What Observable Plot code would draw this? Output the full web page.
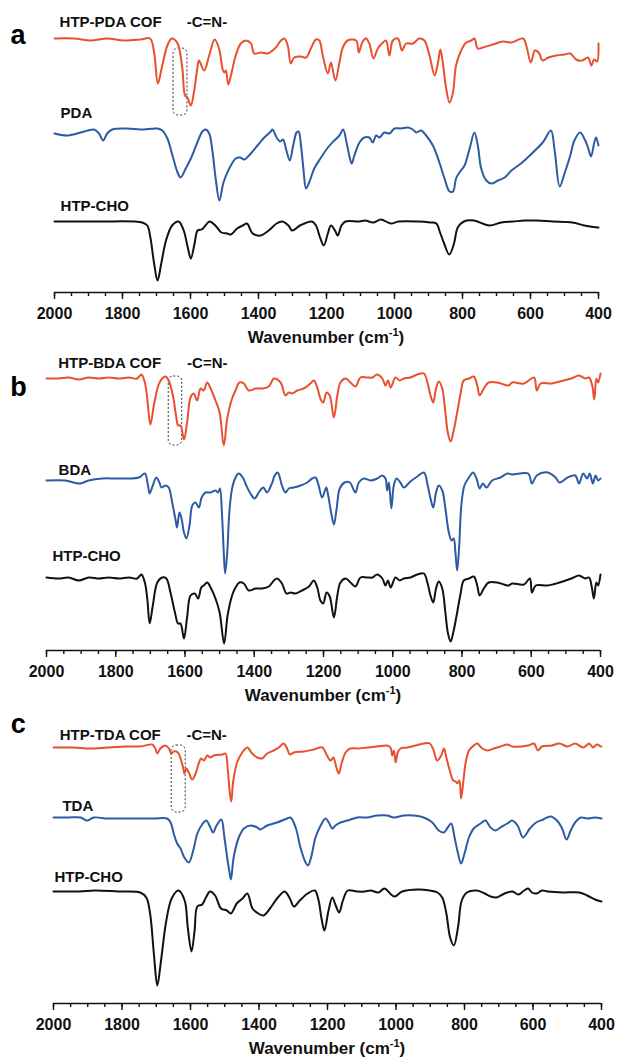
<!DOCTYPE html>
<html><head><meta charset="utf-8">
<script src="https://cdn.jsdelivr.net/npm/d3@7"></script>
<script src="https://cdn.jsdelivr.net/npm/@observablehq/plot@0.6"></script>
<style>
body{margin:0;background:#fff;}
#wrap{position:relative;width:617px;height:1059px;overflow:hidden;font-family:"Liberation Sans",Arial,sans-serif;color:#111;}
.panel{position:absolute;left:0;}
.xtitle{position:absolute;font-weight:bold;font-size:17px;line-height:20px;white-space:nowrap;transform:translateX(-50%);}
.xtitle sup{font-size:11px;line-height:0;vertical-align:7px;}
</style></head>
<body><div id="wrap"></div>
<script>
// ---- axis ticks (wavenumber, cm-1) ----
const majorTicks = [2000,1800,1600,1400,1200,1000,800,600,400];
const minorTicks = [2000,1950,1900,1850,1800,1750,1700,1650,1600,1550,1500,1450,1400,1350,1300,1250,1200,1150,1100,1050,1000,950,900,850,800,750,700,650,600,550,500,450,400];
const axisTitle = "Wavenumber (cm";
const axisTitleSup = "-1";

// ---- panel a: [wavenumber, offset transmittance (a.u.)] ----
const aCOF = [[2000,254],[1943,254],[1894,252],[1845,254],[1796,252],[1747,253],[1719,254],[1707,240],[1696,209],[1683,227],[1668,247],[1655,254],[1638,249],[1624,224],[1616,197],[1609,195],[1599,187],[1590,200],[1580,224],[1575,232],[1560,222],[1545,237],[1529,253],[1516,244],[1506,224],[1501,220],[1496,222],[1489,208],[1481,217],[1467,237],[1452,249],[1437,252],[1422,249],[1413,239],[1393,240],[1373,239],[1359,242],[1349,245],[1334,252],[1324,254],[1314,247],[1305,229],[1295,235],[1275,236],[1260,235],[1246,244],[1231,253],[1221,252],[1211,237],[1196,219],[1187,230],[1174,212],[1162,230],[1152,245],[1138,252],[1113,252],[1105,240],[1095,250],[1084,254],[1074,249],[1062,234],[1049,244],[1034,250],[1025,252],[1015,237],[1005,252],[990,254],[978,242],[966,249],[946,249],[927,254],[912,252],[897,237],[882,217],[872,230],[865,243],[858,230],[848,204],[838,190],[828,200],[819,227],[804,242],[789,250],[774,252],[765,254],[755,244],[740,245],[710,248],[681,251],[656,250],[622,254],[611,245],[599,230],[587,242],[576,240],[564,232],[547,235],[524,237],[500,238],[483,239],[466,233],[448,232],[431,235],[421,227],[413,233],[404,231],[400,249]];
const aPDA = [[2000,159],[1963,157],[1923,160],[1884,163],[1869,159],[1857,152],[1845,159],[1830,163],[1786,164],[1747,163],[1697,164],[1683,162],[1668,154],[1653,137],[1638,120],[1629,115],[1614,124],[1599,134],[1580,150],[1565,161],[1555,163],[1545,159],[1535,140],[1526,114],[1515,92],[1503,110],[1486,124],[1467,134],[1454,135],[1442,133],[1428,137],[1403,147],[1383,155],[1364,161],[1359,163],[1345,154],[1336,151],[1328,153],[1318,142],[1308,132],[1298,147],[1288,160],[1282,161],[1275,147],[1268,124],[1260,104],[1251,110],[1236,124],[1216,135],[1196,145],[1177,152],[1162,157],[1151,163],[1141,150],[1133,137],[1126,129],[1118,137],[1103,150],[1089,155],[1074,155],[1064,150],[1054,157],[1044,155],[1030,160],[1015,159],[1000,164],[981,164],[961,165],[946,163],[936,160],[922,162],[907,157],[887,147],[868,130],[853,114],[838,101],[828,101],[819,114],[809,120],[794,127],[779,144],[765,160],[755,147],[745,124],[730,112],[715,109],[696,112],[676,115],[656,122],[628,129],[593,140],[564,150],[540,162],[529,142],[514,106],[500,119],[483,137],[471,152],[454,160],[439,152],[431,145],[422,136],[413,149],[407,155],[400,147]];
const aCHO = [[2000,71],[1869,71],[1742,70],[1727,67],[1718,55],[1707,29],[1697,12],[1686,29],[1672,52],[1654,67],[1635,71],[1620,62],[1608,45],[1599,34],[1588,49],[1579,62],[1567,63],[1556,67],[1544,71],[1527,67],[1509,60],[1492,59],[1481,58],[1463,64],[1446,67],[1434,69],[1417,59],[1394,57],[1370,62],[1347,69],[1330,71],[1312,67],[1301,62],[1278,67],[1243,71],[1231,67],[1219,55],[1208,47],[1196,59],[1187,67],[1175,62],[1167,57],[1156,67],[1144,71],[1104,71],[1086,72],[1063,70],[1040,73],[1011,69],[988,71],[930,71],[895,70],[877,69],[866,60],[854,49],[839,38],[825,49],[814,65],[796,71],[767,72],[721,67],[686,70],[651,71],[616,72],[581,72],[535,71],[477,70],[442,67],[402,65],[400,65]];

// ---- panel b ----
const bCOF = [[2000,272],[1964,272],[1936,273],[1907,271],[1878,273],[1849,272],[1820,273],[1791,272],[1762,273],[1738,272],[1726,276],[1716,268],[1709,252],[1700,226],[1690,245],[1677,265],[1666,272],[1656,274],[1647,270],[1635,255],[1625,233],[1620,225],[1613,225],[1603,211],[1594,228],[1584,253],[1575,257],[1565,250],[1555,262],[1546,260],[1536,268],[1526,262],[1512,250],[1500,238],[1488,205],[1478,232],[1464,252],[1454,260],[1443,268],[1430,267],[1416,260],[1396,262],[1377,262],[1358,264],[1343,272],[1324,268],[1310,255],[1300,258],[1290,257],[1276,260],[1257,262],[1238,267],[1228,270],[1218,263],[1209,252],[1201,248],[1191,258],[1182,255],[1170,233],[1160,255],[1151,268],[1136,272],[1122,268],[1108,264],[1093,273],[1074,273],[1059,273],[1045,276],[1030,272],[1021,265],[1014,270],[1006,263],[992,273],[980,270],[968,272],[949,273],[929,276],[910,277],[900,268],[891,255],[883,248],[875,262],[867,269],[857,262],[848,238],[841,218],[833,209],[824,220],[814,238],[804,257],[795,270],[780,272],[766,274],[756,265],[749,255],[737,262],[723,268],[698,268],[679,266],[665,265],[655,268],[621,267],[592,273],[584,260],[573,267],[541,267],[507,270],[484,272],[462,275],[444,272],[433,273],[424,265],[418,251],[412,272],[407,268],[400,277]];
const bBDA = [[2000,170],[1945,170],[1921,168],[1902,167],[1878,170],[1839,172],[1801,172],[1762,172],[1733,173],[1716,177],[1707,165],[1702,157],[1693,165],[1683,173],[1674,168],[1668,163],[1656,165],[1647,163],[1637,148],[1627,130],[1623,123],[1616,138],[1610,132],[1603,118],[1596,112],[1587,125],[1579,145],[1570,148],[1560,143],[1552,153],[1541,158],[1526,158],[1512,160],[1504,158],[1499,162],[1493,135],[1488,98],[1484,77],[1478,98],[1472,138],[1464,162],[1454,173],[1445,177],[1433,173],[1423,165],[1411,157],[1399,152],[1387,158],[1374,163],[1363,158],[1348,168],[1341,175],[1332,178],[1320,165],[1310,158],[1300,162],[1286,163],[1266,165],[1247,168],[1233,172],[1223,173],[1214,165],[1204,153],[1192,163],[1188,158],[1178,138],[1170,126],[1162,142],[1153,162],[1139,168],[1124,168],[1108,158],[1098,168],[1084,172],[1064,170],[1045,172],[1030,175],[1021,172],[1016,160],[1011,168],[1004,142],[997,165],[989,172],[978,168],[968,163],[949,169],[929,174],[910,178],[899,165],[891,152],[883,143],[875,158],[867,165],[857,160],[848,142],[838,118],[830,110],[824,112],[819,98],[814,80],[808,105],[802,145],[793,165],[780,173],[768,178],[758,172],[749,162],[740,167],[729,163],[713,170],[689,173],[669,177],[655,176],[609,177],[598,167],[584,175],[552,178],[530,173],[518,168],[495,173],[473,175],[462,167],[450,177],[439,172],[431,177],[422,167],[414,175],[407,170],[400,172]];
const bCHO = [[2000,73],[1964,72],[1936,73],[1907,70],[1878,73],[1849,72],[1820,73],[1791,72],[1762,73],[1738,72],[1726,76],[1716,68],[1709,52],[1702,27],[1693,45],[1680,68],[1666,73],[1654,72],[1642,58],[1629,38],[1620,27],[1613,27],[1603,12],[1594,33],[1584,55],[1572,57],[1562,52],[1553,63],[1546,65],[1536,68],[1526,63],[1512,52],[1500,38],[1487,7],[1477,35],[1464,55],[1454,63],[1443,68],[1430,67],[1416,60],[1396,62],[1377,62],[1358,64],[1343,70],[1334,72],[1320,67],[1307,57],[1295,58],[1281,57],[1262,60],[1242,64],[1228,70],[1218,63],[1209,50],[1201,47],[1191,58],[1182,54],[1170,33],[1160,55],[1151,68],[1136,72],[1122,68],[1108,64],[1093,73],[1074,73],[1059,73],[1045,76],[1030,72],[1021,65],[1014,70],[1006,63],[992,73],[980,70],[968,72],[949,73],[929,76],[910,77],[900,68],[891,55],[883,48],[875,62],[867,69],[857,62],[848,38],[841,18],[833,9],[824,20],[814,38],[804,57],[795,70],[780,72],[766,74],[756,65],[749,55],[737,62],[723,68],[698,68],[679,66],[665,65],[655,67],[621,66],[604,72],[598,58],[587,65],[552,65],[518,68],[484,72],[462,75],[444,72],[433,73],[425,63],[419,52],[412,68],[407,65],[400,76]];

// ---- panel c ----
const cCOF = [[2000,256],[1941,256],[1892,255],[1843,256],[1785,257],[1746,257],[1712,259],[1704,256],[1697,250],[1688,255],[1673,258],[1663,255],[1656,250],[1649,252],[1637,251],[1629,245],[1621,235],[1618,230],[1612,235],[1605,231],[1595,224],[1585,230],[1576,240],[1569,245],[1561,243],[1551,248],[1542,246],[1532,248],[1507,249],[1498,250],[1491,233],[1485,210],[1481,202],[1475,223],[1464,241],[1449,251],[1434,256],[1420,250],[1405,246],[1391,245],[1376,250],[1357,253],[1342,256],[1328,260],[1318,255],[1310,249],[1298,251],[1269,252],[1240,254],[1215,256],[1203,249],[1191,243],[1183,246],[1174,236],[1167,230],[1159,240],[1147,251],[1133,255],[1113,255],[1084,256],[1055,257],[1026,258],[1016,256],[1011,248],[1006,253],[1001,241],[995,251],[987,255],[967,256],[943,258],[919,260],[901,260],[890,253],[880,243],[868,248],[860,255],[853,246],[843,233],[833,223],[826,222],[821,220],[815,223],[810,205],[804,220],[797,240],[787,253],[773,258],[763,260],[748,255],[734,253],[714,255],[695,257],[675,259],[660,257],[614,258],[597,260],[586,253],[574,257],[545,258],[523,260],[499,257],[477,260],[453,256],[436,260],[425,256],[413,259],[402,257],[400,257]];
const cTDA = [[2000,186],[1960,186],[1921,186],[1902,183],[1882,186],[1843,185],[1795,185],[1746,185],[1707,185],[1668,185],[1658,181],[1649,170],[1639,160],[1629,155],[1618,146],[1605,141],[1592,153],[1580,170],[1566,179],[1554,183],[1542,176],[1534,171],[1524,178],[1510,184],[1501,166],[1493,146],[1487,133],[1482,124],[1474,146],[1459,166],[1444,175],[1425,178],[1405,176],[1396,174],[1376,178],[1347,181],[1318,185],[1308,186],[1293,176],[1279,156],[1264,141],[1257,138],[1248,146],[1235,166],[1220,178],[1206,185],[1196,181],[1186,175],[1177,178],[1162,181],[1142,183],[1113,186],[1084,186],[1055,188],[1026,188],[1006,186],[977,188],[948,188],[919,186],[894,181],[875,173],[860,171],[849,176],[839,180],[829,166],[819,150],[810,140],[800,150],[787,166],[773,175],[753,180],[739,183],[724,176],[710,173],[695,176],[675,180],[661,183],[645,178],[629,166],[609,175],[591,181],[570,184],[549,187],[530,183],[515,175],[502,164],[490,173],[477,181],[460,186],[440,185],[420,186],[400,185]];
const cCHO = [[2000,112],[1925,112],[1879,113],[1810,112],[1747,111],[1729,106],[1718,90],[1707,50],[1697,18],[1686,43],[1672,80],[1655,105],[1635,113],[1617,103],[1608,76],[1597,52],[1588,73],[1580,97],[1566,99],[1555,106],[1543,112],[1528,108],[1511,95],[1494,93],[1482,90],[1465,100],[1448,105],[1434,110],[1419,95],[1402,90],[1387,88],[1368,95],[1345,106],[1325,112],[1310,105],[1298,97],[1281,103],[1258,110],[1237,113],[1226,103],[1218,86],[1209,73],[1197,93],[1186,106],[1176,98],[1166,91],[1155,103],[1141,113],[1114,112],[1091,112],[1074,113],[1051,111],[1034,115],[1005,107],[982,112],[936,114],[902,113],[879,111],[865,106],[853,90],[842,66],[831,58],[819,76],[808,103],[793,111],[764,113],[741,110],[724,107],[707,106],[683,110],[660,112],[643,109],[626,113],[614,115],[603,111],[589,110],[574,113],[557,112],[511,111],[465,111],[442,108],[419,104],[400,102]];

// ---- labels (text, wavenumber, value) ----
const labelsA = [{t:"HTP-PDA COF",w:1985,v:270},{t:"-C=N-",w:1611,v:270},{t:"PDA",w:1982,v:179},{t:"HTP-CHO",w:1982,v:86}];
const labelsB = [{t:"HTP-BDA COF",w:1966,v:287},{t:"-C=N-",w:1594,v:287},{t:"BDA",w:1965,v:180},{t:"HTP-CHO",w:1983,v:94}];
const labelsC = [{t:"HTP-TDA COF",w:1982,v:268},{t:"-C=N-",w:1612,v:268},{t:"TDA",w:1974,v:197},{t:"HTP-CHO",w:1997,v:126}];
const letters = [{t:"a",w:2107,v:257},{t:"b",w:2081,v:263},{t:"c",w:2103,v:279}];
const boxes = [{x1:1650,x2:1609,y1:177,y2:244},{x1:1647,x2:1608,y1:205,y2:274},{x1:1655,x2:1614,y1:191,y2:258}];

const RED = "#e8502f", BLUE = "#2d5ba3", BLACK = "#111111";

const wrap = document.getElementById("wrap");

function panel({top, height, axisY, ml, mr, series, labels, letter, box}) {
  const marks = [
    Plot.ruleY([0], {stroke: BLACK, strokeWidth: 1.6}),
    Plot.axisX({ticks: minorTicks, tickSize: 4, fill: "none", label: null, stroke: BLACK, strokeWidth: 1.4}),
    Plot.axisX({ticks: majorTicks, tickSize: 7, tickPadding: 8, tickFormat: d => String(d), fontSize: 16, fontWeight: "bold", label: null, stroke: BLACK, fill: BLACK, strokeWidth: 1.4}),
    Plot.rect([box], {x1: "x1", x2: "x2", y1: "y1", y2: "y2", rx: 5, fill: "none", stroke: "#333", strokeWidth: 1, strokeDasharray: "2,2"}),
    ...series.map(s => Plot.line(s.data, {x: d => d[0], y: d => d[1], stroke: s.color, strokeWidth: 2, curve: "catmull-rom"})),
    Plot.text(labels, {x: "w", y: "v", text: "t", textAnchor: "start", fontSize: 15, fontWeight: "bold", fill: BLACK}),
    Plot.text([letter], {x: "w", y: "v", text: "t", textAnchor: "middle", fontSize: 27, fontWeight: "bold", fill: "#000"})
  ];
  const svg = Plot.plot({
    width: 617, height,
    marginLeft: ml, marginRight: mr, marginTop: 0, marginBottom: height - axisY,
    x: {domain: [2000, 400]},
    y: {domain: [0, axisY], axis: null},
    style: {fontFamily: "'Liberation Sans', Arial, sans-serif", background: "transparent", overflow: "visible", color: BLACK},
    marks
  });
  const div = document.createElement("div");
  div.className = "panel";
  div.style.top = top + "px";
  div.appendChild(svg);
  wrap.appendChild(div);
  const t = document.createElement("div");
  t.className = "xtitle";
  t.style.left = ((ml + 617 - mr) / 2) + "px";
  t.style.top = (top + axisY + 36) + "px";
  t.innerHTML = axisTitle + "<sup>" + axisTitleSup + "</sup>)";
  wrap.appendChild(t);
}

panel({top: 0, height: 340, axisY: 292, ml: 54, mr: 19,
  series: [{data: aCOF, color: RED}, {data: aPDA, color: BLUE}, {data: aCHO, color: BLACK}],
  labels: labelsA, letter: letters[0], box: boxes[0]});
panel({top: 340, height: 365, axisY: 310, ml: 46, mr: 17,
  series: [{data: bCOF, color: RED}, {data: bBDA, color: BLUE}, {data: bCHO, color: BLACK}],
  labels: labelsB, letter: letters[1], box: boxes[1]});
panel({top: 705, height: 354, axisY: 298, ml: 53, mr: 16,
  series: [{data: cCOF, color: RED}, {data: cTDA, color: BLUE}, {data: cCHO, color: BLACK}],
  labels: labelsC, letter: letters[2], box: boxes[2]});
</script>
</body></html>
